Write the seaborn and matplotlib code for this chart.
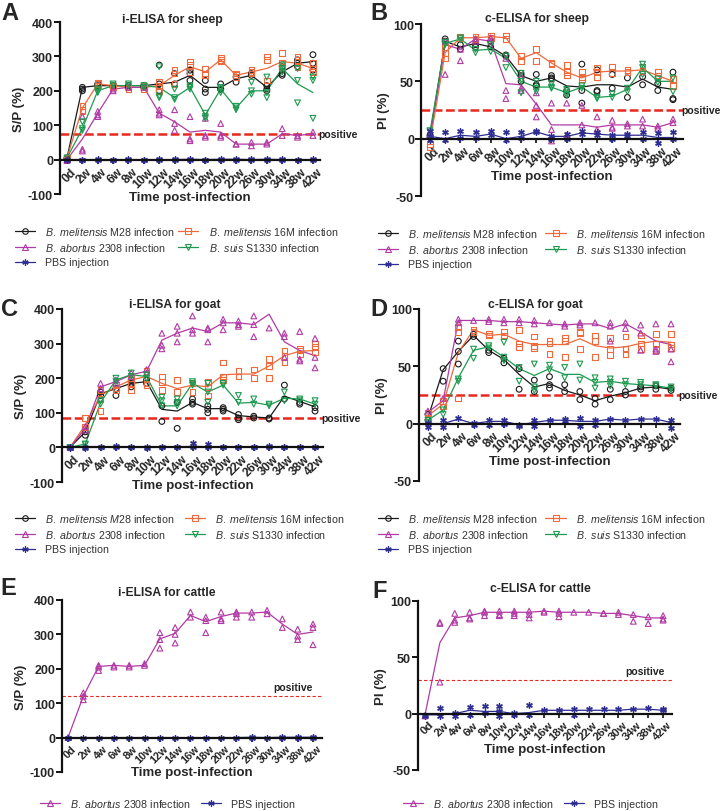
import numpy as np
import pandas as pd
import matplotlib
matplotlib.use("Agg")
import matplotlib.pyplot as plt
import matplotlib.transforms as mtrans
from matplotlib.lines import Line2D
import seaborn as sns

# ---------------- data ----------------
times = ["0d", "2w", "4w", "6w", "8w", "10w", "12w", "14w", "16w", "18w",
         "20w", "22w", "26w", "30w", "34w", "38w", "42w"]

# Panel A: i-ELISA for sheep (S/P %)
A_M28_mean = [5, 210, 215, 215, 215, 215, 220, 225, 245, 210, 210, 235, 245, 210, 255, 280, 285]
A_M28_pts = [[5, 3], [200, 210, 205], [215, 220], [215, 210], [215, 210], [215, 210], [275, 220, 200],
             [250, 220], [260, 230, 250], [230, 205, 195], [220, 205, 205], [225, 240], [245, 250],
             [205, 215, 200], [245, 250, 270], [280, 290, 270], [305, 280, 260]]
A_16M_mean = [5, 150, 220, 215, 210, 210, 215, 245, 270, 255, 290, 245, 255, 265, 285, 280, 265]
A_16M_pts = [[5], [155, 145, 140], [220, 215, 222], [215, 210], [210, 205], [210, 215, 205], [225, 215, 200],
             [260, 250, 220], [285, 275, 255], [265, 250, 245], [295, 290, 285], [250, 245, 240],
             [260, 255, 250], [300, 290, 230], [310, 280, 270], [300, 290, 270], [280, 265, 255]]
A_2308_mean = [0, 60, 135, 205, 210, 210, 135, 110, 80, 85, 80, 45, 45, 45, 75, 70, 75]
A_2308_pts = [[0, -3], [125, 30, 25], [140, 130, 125], [205, 200], [210], [210], [145, 135, 130],
              [145, 105, 85], [125, 60, 55], [120, 70, 65], [105, 70, 65], [45, 45], [50, 40], [50, 45],
              [90, 70], [70, 65], [80, 70]]
A_S1330_mean = [5, 90, 200, 215, 215, 215, 210, 180, 210, 130, 205, 150, 200, 200, 265, 220, 195]
A_S1330_pts = [[5], [110, 90, 85], [195, 200, 205], [215, 220], [215, 220], [215, 210], [270, 185, 180],
               [205, 180, 175], [215, 210, 205], [135, 125, 120], [205, 195, 210], [150, 145, 155],
               [225, 200, 190], [240, 195, 180], [275, 265, 255], [265, 230, 165], [240, 230, 120]]
A_PBS_mean = [0, 0, 0, 0, 0, 0, 0, 0, 1, 0, 1, 1, 0, 1, 0, 0, 0]
A_PBS_pts = [[0, -2], [0, -1], [0, 1], [0, -1], [0, 1], [0, -1], [0, 1], [0, 2], [2, 0], [0, -1], [2, 0],
             [2, 0], [0, 1], [2, 0], [0, 1], [0, -1], [1, 0]]

# Panel B: c-ELISA for sheep (PI %)
B_M28_mean = [2, 85, 80, 83, 80, 72, 55, 50, 53, 46, 45, 47, 47, 45, 52, 45, 43]
B_M28_pts = [[3, 1], [87, 85], [82, 78], [80, 82], [85, 80], [73, 72], [57, 55, 50], [56, 47, 46],
             [55, 53, 52], [42, 38], [65, 42, 31], [60, 42, 41], [56, 44], [53, 36], [47, 54], [42, 48],
             [58, 35, 34]]
B_16M_mean = [-3, 75, 88, 88, 89, 88, 70, 75, 66, 58, 53, 58, 59, 59, 60, 55, 50]
B_16M_pts = [[-5, -7], [80, 75, 70], [89, 88], [89, 87], [90, 88], [90, 87], [72, 68], [78, 68], [66, 65],
             [64, 58, 55], [58, 54, 52], [62, 58, 54], [63, 57], [60, 58], [63, 59], [58, 55], [52, 46]]
B_2308_mean = [3, 82, 78, 87, 85, 48, 47, 30, 12, 12, 12, 10, 12, 12, 12, 10, 14]
B_2308_pts = [[3], [56, 85], [78, 68], [87, 85], [88, 85], [42, 35, 70], [44, 42, 55], [29, 19, 40],
              [31, 8, -2], [31, 3], [29, 12], [19, 8], [16, 9, 10], [13, 11], [17, 11], [11, 9], [17, 14]]
B_S1330_mean = [6, 83, 87, 77, 78, 70, 50, 45, 45, 40, 45, 36, 37, 43, 62, 50, 50]
B_S1330_pts = [[6, 7], [84, 82], [88, 86], [78, 75], [82, 76], [72, 62], [57, 50, 40], [50, 44, 41],
               [48, 45, 44], [43, 40, 38], [46, 44], [36, 35], [39, 36], [44, 41], [65, 62, 56], [52, 49],
               [53, 41]]
B_PBS_mean = [2, 0, 3, 2, 4, 0, 2, 6, 2, 2, 5, 4, 3, 3, 3, 1, 1]
B_PBS_pts = [[2, -1, 7], [6, -1], [7, 1], [6, 1], [7, 3], [6, -1], [6, 1], [6, 7], [0, 2], [4, 0], [7, 4],
             [6, 3], [3, 0], [4, 2], [6, 0], [5, -4], [6, 0]]

# Panel C: i-ELISA for goat (S/P %)
C_M28_mean = [0, 45, 155, 170, 185, 190, 110, 105, 130, 112, 112, 92, 88, 85, 148, 133, 117]
C_M28_pts = [[0], [45, 35], [160, 150], [170, 150], [195, 175, 185], [195, 185], [120, 75], [130, 55],
             [140, 130, 125], [120, 110, 100], [115, 110, 105], [95, 85, 80], [90, 85], [85, 82],
             [180, 140], [130, 125], [115, 105]]
C_16M_mean = [0, 65, 150, 175, 195, 205, 185, 170, 180, 175, 210, 212, 212, 235, 265, 278, 280]
C_16M_pts = [[0], [85, 60], [165, 140, 105], [180, 170, 165], [200, 185, 165], [220, 185, 180],
             [205, 190, 165], [195, 160], [185, 160], [190, 175, 150], [245, 205, 195], [220, 205],
             [225, 200], [255, 235, 200], [280, 265, 245], [285, 280, 270], [300, 290, 275]]
C_2308_mean = [0, 55, 175, 190, 210, 220, 310, 330, 345, 335, 360, 360, 355, 385, 305, 280, 265]
C_2308_pts = [[0], [60, 50], [185, 170], [195, 185], [215, 205], [225, 215], [330, 295, 285],
              [350, 330, 305], [380, 340, 330], [345, 340, 305], [370, 360, 340], [365, 355, 350],
              [380, 355, 320], [345], [330, 320, 260], [335, 255, 250], [315, 260, 230]]
C_S1330_mean = [0, 10, 130, 195, 210, 205, 120, 120, 185, 160, 180, 128, 130, 122, 142, 140, 125]
C_S1330_pts = [[0], [10, 8], [135, 125], [200, 190], [215, 205], [210, 200], [145, 135, 120],
               [140, 130, 120], [190, 185, 180], [185, 160, 130], [185, 180], [150, 130], [140, 125],
               [125, 120], [160, 135], [140, 135], [135, 125]]
C_PBS_mean = [0, 0, 0, 2, 0, 0, 0, 1, 3, 2, 1, 0, 1, 2, 1, 0, 1]
C_PBS_pts = [[0, -1], [0, -1], [0, 1], [5, 0], [0, 1], [0, -1], [0, 2], [2, 0], [12, 0], [10, 0], [2, 0],
             [0, 1], [2, 0], [4, 0], [2, 0], [1, 0], [2, 0]]

# Panel D: c-ELISA for goat (PI %)
D_M28_mean = [5, 47, 63, 77, 64, 56, 43, 32, 35, 29, 25, 20, 24, 27, 31, 32, 30]
D_M28_pts = [[8, 3], [48, 37], [72, 63, 52], [78, 76], [64, 62], [57, 53], [48, 30], [38, 28],
             [41, 34, 31], [34, 28], [28, 21], [22, 17], [30, 21], [28, 25], [32, 30], [33, 30], [31, 29]]
D_16M_mean = [7, 17, 62, 82, 77, 78, 72, 69, 69, 69, 74, 68, 66, 67, 70, 72, 71]
D_16M_pts = [[9, 5], [20, 15], [84, 80, 22], [82, 80], [78, 77], [80, 77], [82, 70, 67], [76, 68, 66],
             [72, 70, 61], [75, 72, 58], [80, 79, 65], [77, 72, 58], [75, 65, 60], [76, 65, 61],
             [77, 70, 65], [78, 70, 64], [78, 69, 66]]
D_2308_mean = [10, 20, 90, 90, 90, 89, 89, 88, 87, 86, 87, 87, 83, 87, 80, 72, 69]
D_2308_pts = [[11], [22], [91, 88], [90], [91, 89], [91, 88], [91, 88], [90, 87], [88], [87, 85],
              [88, 86], [88], [88, 85, 72], [88, 83], [86, 79, 64], [87, 65, 63], [87, 65, 54]]
D_S1330_mean = [3, 12, 40, 64, 67, 58, 48, 42, 48, 43, 43, 36, 37, 35, 34, 33, 31]
D_S1330_pts = [[3, 1], [12, 8], [39, 37], [65, 57], [68, 66], [58, 55, 71], [49, 37], [52, 32, 29],
               [51, 47], [49, 40], [52, 38], [40, 36, 31], [39, 36, 33], [37, 34], [36, 34], [34, 33],
               [32, 30]]
D_PBS_mean = [0, 0, 4, 0, 2, 2, -1, 1, 3, 3, 2, 2, 4, 3, 4, 4, 1]
D_PBS_pts = [[1, -3], [3, -3], [5], [1, -1], [3, -1], [3, 0], [-1, -2], [3, -2], [3], [4, 2], [5, -2],
             [3, -1], [4], [3], [4], [4], [3, -4]]

# Panel E: i-ELISA for cattle (S/P %)
E_2308_mean = [0, 120, 207, 210, 207, 210, 287, 303, 355, 337, 352, 362, 362, 365, 330, 300, 307]
E_2308_pts = [[0], [130, 120, 110], [210, 205, 195], [210, 205], [210, 205], [215, 210], [305, 285, 260],
              [320, 300, 275], [365, 350], [350, 340, 305], [365, 345, 340], [365, 360, 350], [365, 350],
              [370, 360], [345, 320], [315, 295, 285], [330, 320, 270]]
E_PBS_mean = [0, 0, 0, 0, 0, 0, 0, 0, 0, 0, 0, 0, 1, 0, 1, 1, 1]
E_PBS_pts = [[0, -1], [0], [0], [0], [0], [0], [0], [0], [0], [0], [0], [0], [2, 0], [0], [3, 0], [2, 0],
             [2, 0]]

# Panel F: c-ELISA for cattle (PI %)
F_2308_mean = [-1, 63, 85, 87, 90, 90, 90, 90, 91, 90, 90, 90, 89, 89, 87, 85, 85]
F_2308_pts = [[-2], [81, 80, 28], [89, 83, 81], [90, 85, 84], [91, 90, 87], [91, 88, 87], [91, 89, 87],
              [91, 88, 85], [91, 90], [91, 89, 86], [90], [90], [89, 89], [90, 88], [88, 82], [86, 80],
              [87, 84, 83]]
F_PBS_mean = [-1, -1, 0, 3, 2, 2, 0, 1, 3, 3, 3, 3, 3, 3, 4, 4, 3]
F_PBS_pts = [[-1, -2], [5, -2], [1, -2], [6, -1], [7, 1], [7, 2, -2], [1, -1], [8, -1], [3], [3], [4, -1],
             [4], [4], [4], [4], [5], [4, 3]]

thresholds = {"A": 75, "B": 25, "C": 84, "D": 25, "E": 120, "F": 30}

# ---------------- style ----------------
sns.set_style("ticks")
plt.rcParams["font.family"] = ["Liberation Sans", "DejaVu Sans"]
plt.rcParams["mathtext.fontset"] = "custom"
plt.rcParams["mathtext.it"] = "Liberation Sans:italic"
plt.rcParams["mathtext.rm"] = "Liberation Sans"
plt.rcParams["axes.unicode_minus"] = False

C_BLACK = "#1a1a1a"
C_ORANGE = "#EE6A3C"
C_MAGENTA = "#B23AA6"
C_GREEN = "#1E9A50"
C_BLUE = "#2E2E92"
C_RED = "#E8281E"
ASTER = (6, 2, 0)

LBL = {
    "M28": r"$\mathit{B.\ melitensis}$ M28 infection",
    "M28i": r"$\mathit{B.\ melitensis\ M28}$ infection",
    "16M": r"$\mathit{B.\ melitensis}$ 16M infection",
    "2308": r"$\mathit{B.\ abortus}$ 2308 infection",
    "S1330": r"$\mathit{B.\ suis}$ S1330 infection",
    "PBS": "PBS injection",
}
STYLE = {
    "M28": (C_BLACK, "o"), "16M": (C_ORANGE, "s"), "2308": (C_MAGENTA, "^"),
    "S1330": (C_GREEN, "v"), "PBS": (C_BLUE, ASTER),
}

W, H = 720, 812
fig = plt.figure(figsize=(W / 100, H / 100), dpi=100)


def rect(l, t, r, b):
    return [l / W, 1 - b / H, (r - l) / W, (b - t) / H]


def panel(r, xlim, ylim, yticks, ylabel, series, thr, thin=False, xtick_fs=8.7):
    ax = fig.add_axes(rect(*r))
    x = np.arange(len(times))
    for key, mean, pts in series:
        color, marker = STYLE[key]
        px = [i for i, p in enumerate(pts) for _ in p]
        py = [v for p in pts for v in p]
        sns.lineplot(x=x, y=mean, color=color, lw=0.9, ax=ax, legend=False, zorder=2)
        if key == "PBS":
            sns.scatterplot(x=px, y=py, marker=ASTER, s=16, color=color, linewidth=1.0,
                            ax=ax, legend=False, zorder=3)
        else:
            sns.scatterplot(x=px, y=py, marker=marker, s=17, facecolor="none", edgecolor=color,
                            linewidth=0.8, ax=ax, legend=False, zorder=3)
    if thin:
        ax.axhline(thr, color=C_RED, lw=0.8, dashes=(3, 2), zorder=1)
    else:
        ax.axhline(thr, color=C_RED, lw=1.8, dashes=(3.5, 1.4), zorder=1)
    ax.set_xlim(*xlim)
    ax.set_ylim(*ylim)
    ax.spines["top"].set_visible(False)
    ax.spines["right"].set_visible(False)
    ax.spines["bottom"].set_position(("data", 0))
    for s in ("left", "bottom"):
        ax.spines[s].set_linewidth(1.6)
        ax.spines[s].set_color("#111111")
        ax.spines[s].set_zorder(4)
    ax.set_xticks(x)
    ax.set_xticklabels(times, rotation=45, ha="right", rotation_mode="anchor",
                       fontsize=xtick_fs, fontweight="bold")
    ax.set_yticks(yticks)
    ax.set_yticklabels([str(v) for v in yticks], fontsize=9, fontweight="bold")
    ax.tick_params(axis="y", length=4, width=1.4, pad=1, color="#111111")
    ax.tick_params(axis="x", length=3, width=1.2, pad=1, color="#111111")
    off = mtrans.ScaledTranslation(2.5 / 72, 0, fig.dpi_scale_trans)
    for t in ax.get_xticklabels():
        t.set_transform(t.get_transform() + off)
    ax.set_ylabel(ylabel, fontsize=9.5, fontweight="bold", labelpad=2)
    ax.set_xlabel("Time post-infection", fontsize=9.5, fontweight="bold", labelpad=1)
    return ax


def pos_text(ax, thr):
    ax.text(ax.get_xlim()[1] - 0.1, thr, "positive", ha="left", va="center",
            fontsize=7.5, fontweight="bold", color="#222222", clip_on=False)


def legend(keys, x_px, y_px, ncol, colsp=0.5, labels=None):
    handles = []
    labs = []
    for k in keys:
        color, marker = STYLE[k]
        if k == "PBS":
            h = Line2D([], [], color=color, lw=0.9, marker=ASTER, markersize=4.5, markeredgewidth=0.9)
        else:
            h = Line2D([], [], color=color, lw=0.9, marker=marker, markersize=4,
                       markerfacecolor="none", markeredgewidth=0.8)
        handles.append(h)
        labs.append(LBL[k] if labels is None else labels[k])
    fig.legend(handles, labs, loc="center left", bbox_to_anchor=(x_px / W, 1 - y_px / H),
               ncol=ncol, frameon=False, fontsize=7.7, handlelength=1.9, handletextpad=0.95,
               columnspacing=colsp, labelspacing=0.42, borderpad=0, borderaxespad=0,
               labelcolor="#333333")


def letter(x, y, s):
    fig.text(x / W, 1 - y / H, s, fontsize=17, fontweight="bold", ha="left", va="top")


def title(x, y, s):
    fig.text(x / W, 1 - y / H, s, fontsize=8.7, fontweight="bold", ha="center", va="center")


# ---------------- panels ----------------
axA = panel((60, 23, 320, 195), (-0.455, 16.46), (-100, 400), [-100, 0, 100, 200, 300, 400], "S/P (%)",
            [("M28", A_M28_mean, A_M28_pts), ("16M", A_16M_mean, A_16M_pts),
             ("2308", A_2308_mean, A_2308_pts), ("S1330", A_S1330_mean, A_S1330_pts),
             ("PBS", A_PBS_mean, A_PBS_pts)], thresholds["A"])
pos_text(axA, thresholds["A"])

axB = panel((421, 25, 683, 197), (-0.59, 16.66), (-50, 100), [-50, 0, 50, 100], "PI (%)",
            [("M28", B_M28_mean, B_M28_pts), ("16M", B_16M_mean, B_16M_pts),
             ("2308", B_2308_mean, B_2308_pts), ("S1330", B_S1330_mean, B_S1330_pts),
             ("PBS", B_PBS_mean, B_PBS_pts)], thresholds["B"])
pos_text(axB, thresholds["B"])

axC = panel((62, 310, 323, 483), (-0.52, 16.52), (-100, 400), [-100, 0, 100, 200, 300, 400], "S/P (%)",
            [("M28", C_M28_mean, C_M28_pts), ("16M", C_16M_mean, C_16M_pts),
             ("2308", C_2308_mean, C_2308_pts), ("S1330", C_S1330_mean, C_S1330_pts),
             ("PBS", C_PBS_mean, C_PBS_pts)], thresholds["C"])
pos_text(axC, thresholds["C"])

axD = panel((419, 310, 680, 482), (-0.59, 16.59), (-50, 100), [-50, 0, 50, 100], "PI (%)",
            [("M28", D_M28_mean, D_M28_pts), ("16M", D_16M_mean, D_16M_pts),
             ("2308", D_2308_mean, D_2308_pts), ("S1330", D_S1330_mean, D_S1330_pts),
             ("PBS", D_PBS_mean, D_PBS_pts)], thresholds["D"])
pos_text(axD, thresholds["D"])

axE = panel((62, 601, 322, 773), (-0.39, 16.59), (-100, 400), [-100, 0, 100, 200, 300, 400], "S/P (%)",
            [("2308", E_2308_mean, E_2308_pts), ("PBS", E_PBS_mean, E_PBS_pts)],
            thresholds["E"], thin=True, xtick_fs=7.8)
axE.text(14.7, 146, "positive", ha="center", va="center", fontsize=7.5, fontweight="bold", color="#222222")

axF = panel((418, 602, 672, 771), (-0.47, 16.6), (-50, 100), [-50, 0, 50, 100], "PI (%)",
            [("2308", F_2308_mean, F_2308_pts), ("PBS", F_PBS_mean, F_PBS_pts)],
            thresholds["F"], thin=True, xtick_fs=8.2)
axF.text(14.8, 38, "positive", ha="center", va="center", fontsize=7.5, fontweight="bold", color="#222222")

# titles and letters
title(172, 20, "i-ELISA for sheep")
title(537, 19, "c-ELISA for sheep")
title(175, 305, "i-ELISA for goat")
title(535, 305, "c-ELISA for goat")
title(167, 593, "i-ELISA for cattle")
title(540, 589, "c-ELISA for cattle")
letter(1, 2, "A")
letter(370, 2, "B")
letter(1, 298, "C")
letter(370, 298, "D")
letter(0, 577, "E")
letter(372, 580, "F")

# legends
legend(["M28", "2308", "PBS", "16M", "S1330"], 15, 247, 2, colsp=0.3)
legend(["M28", "2308", "PBS", "16M", "S1330"], 378, 249, 2, colsp=0.7)
lab_c = dict(LBL)
lab_c["M28"] = LBL["M28i"]
legend(["M28", "2308", "PBS", "16M", "S1330"], 15, 534, 2, colsp=0.9, labels=lab_c)
legend(["M28", "2308", "PBS", "16M", "S1330"], 378, 534, 2, colsp=0.7)
legend(["2308", "PBS"], 40, 804, 2, colsp=0.9)
legend(["2308", "PBS"], 403, 804, 2, colsp=0.9)

fig.savefig("out.png", dpi=100)
